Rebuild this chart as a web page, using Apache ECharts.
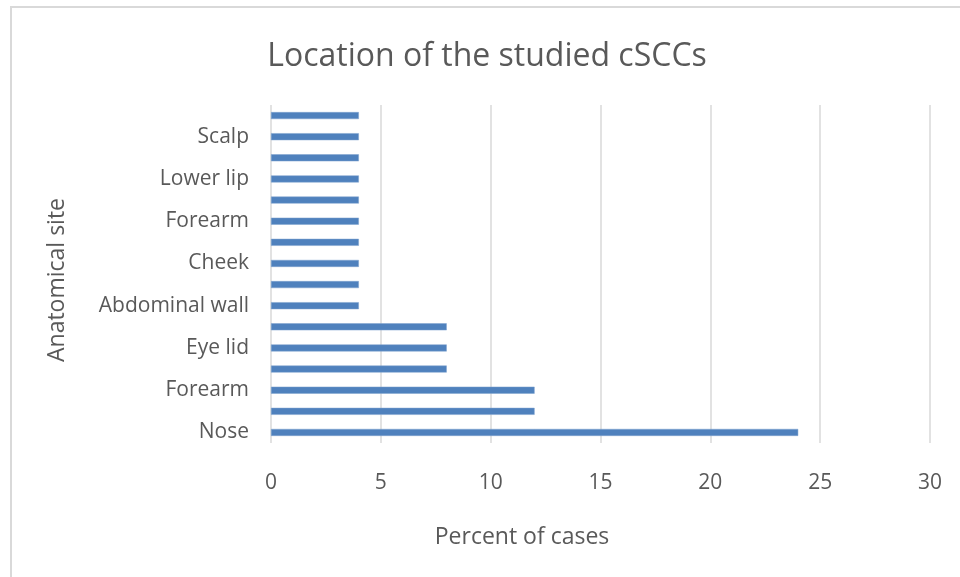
<!DOCTYPE html>
<html><head><meta charset="utf-8">
<script src="https://cdn.jsdelivr.net/npm/echarts@6/dist/echarts.min.js"></script>
<style>html,body{margin:0;padding:0;background:#fff}#c{width:960px;height:577px}</style>
</head><body><div id="c"></div>
<script>
// categories from bottom to top (unlabelled rows shown as '')
const categories = ['Nose','','Forearm','','Eye lid','','Abdominal wall','','Cheek','','Forearm','','Lower lip','','Scalp',''];
const percentValues = [24,12,12,8,8,8,4,4,4,4,4,4,4,4,4,4];
const xTicks = [0,5,10,15,20,25,30];
const titleText = 'Location of the studied cSCCs';
const xName = 'Percent of cases';
const yName = 'Anatomical site';

const FONT = 'Open Sans';
const GREY = '#595959';
const chart = echarts.init(document.getElementById('c'), null, {renderer:'canvas'});
chart.setOption({
  animation:false,
  backgroundColor:'#fff',
  graphic:[
    {type:'rect', shape:{x:11,y:7,width:1000,height:600}, style:{fill:'none',stroke:'#d9d9d9',lineWidth:2}, silent:true},
    {type:'text', style:{text:titleText, x:487, y:57, align:'center', verticalAlign:'middle', fontFamily:FONT, fontSize:32, fill:GREY}},
    {type:'text', style:{text:xName, x:522, y:537, align:'center', verticalAlign:'middle', fontFamily:FONT, fontSize:23, fill:GREY}},
    {type:'text', rotation:Math.PI/2, x:57, y:280, style:{text:yName, x:0, y:0, align:'center', verticalAlign:'middle', fontFamily:FONT, fontSize:23, fill:GREY}}
  ],
  grid:{left:271, right:30, top:105, bottom:134, containLabel:false},
  xAxis:{
    type:'value', min:xTicks[0], max:xTicks[xTicks.length-1], interval:5,
    axisLine:{show:false}, axisTick:{show:false},
    splitLine:{show:true, lineStyle:{color:'#d9d9d9', width:1.5}},
    axisLabel:{color:GREY, fontFamily:FONT, fontSize:21, margin:30}
  },
  yAxis:{
    type:'category', data:categories,
    axisLine:{show:false}, axisTick:{show:false},
    axisLabel:{interval:0, color:GREY, fontFamily:FONT, fontSize:21, margin:22}
  },
  series:[{
    type:'bar', data:percentValues, barWidth:7,
    itemStyle:{color:'#4f81bd', borderColor:'#7fa2cf', borderWidth:0.5}
  }]
});
</script></body></html>
